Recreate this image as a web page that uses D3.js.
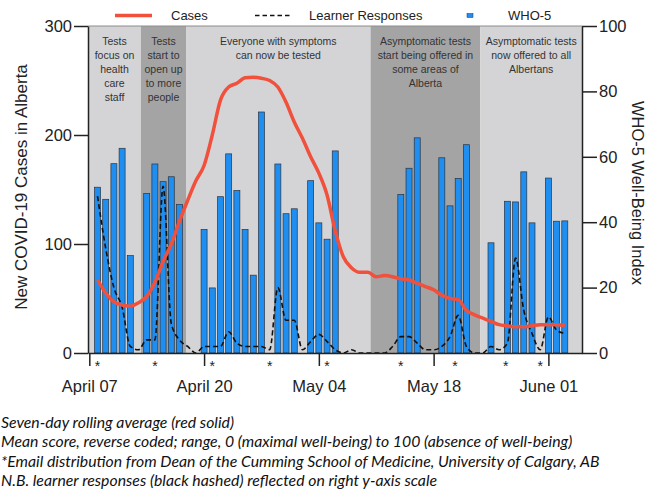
<!DOCTYPE html>
<html>
<head>
<meta charset="utf-8">
<script src="https://cdn.jsdelivr.net/npm/d3@7"></script>
<style>
body { margin: 0; background: #fff; }
svg { display: block; }
text { font-family: "Liberation Sans", Arial, sans-serif; fill: #222; }
.note { font-family: Lato, sans-serif; font-style: italic; fill: #111; }
</style>
</head>
<body>
<svg id="chart" width="654" height="497"></svg>
<script>
const svg = d3.select('#chart')
const plotLeft = 88, plotRight = 582, plotTop = 26, plotBottom = 353
const red = '#f0503c'
const blue = '#1f8ef1'

// x is the day number, day 0 = April 07
const tickDays = [0, 14, 28, 42, 56]
const tickLabels = ['April 07', 'April 20', 'May 04', 'May 18', 'June 01']
const casesTicks = [0, 100, 200, 300]
const whoTicks = [0, 20, 40, 60, 80, 100]

// seven-day rolling average of new cases, days 1..58
const cases = [67, 55, 47, 44, 43, 46, 52, 65, 84, 100, 121, 140, 158, 172, 200, 232, 244, 247.5, 252.5, 253,
	252, 250, 244, 230, 212, 197, 180, 165, 145, 112, 88, 78, 74, 74, 70, 71, 70, 68, 67, 64,
	61, 58, 53, 50, 49, 39, 35, 32, 29, 26, 25, 24, 24, 25, 26, 26, 26, 25]

// learner responses (right axis), days 1..58
const learners = [48, 32, 20, 14, 2, 1, 4, 4, 51, 9, 4, 2, 0, 2, 2, 2, 6.5, 3, 2, 2,
	2, 1, 20, 10, 10, 1, 3.5, 5.7, 3.5, 1, 0, 1, 0, 0, 0, 0, 2, 5, 5, 3,
	1, 1, 2, 5, 11.5, 2, 0, 0, 2, 1, 3, 29, 13, 6, 1, 11, 7, 6]

// WHO-5 mean score bars
const whoDays = [1, 2, 3, 4, 5, 7, 8, 9, 10, 11, 14, 15, 16, 17, 18, 19, 20, 21, 23, 24,
	25, 27, 28, 29, 30, 38, 39, 40, 43, 44, 45, 46, 49, 51, 52, 53, 54, 56, 57, 58]
const who = [50.7, 47.0, 57.9, 62.6, 29.8, 48.8, 57.8, 52.4, 53.9, 45.4, 37.8, 19.9, 47.8, 60.9, 49.7, 37.8, 23.8, 73.7, 57.8, 42.6,
	44.1, 52.7, 39.8, 34.8, 61.8, 48.5, 56.5, 65.8, 59.7, 45.0, 53.4, 63.7, 33.7, 46.4, 46.2, 55.4, 39.8, 53.5, 40.3, 40.4]

// email distribution days (stars)
const emailDays = [1, 8, 15, 22, 29, 38, 44.6, 50.8, 55]

// testing phases
const bandStart = [-0.16, 6.3, 11.8, 34.3, 47.7]
const bandEnd = [6.3, 11.8, 34.3, 47.7, 60.1]
const bandDark = [false, true, false, true, false]
const bandText = [
	['Tests', 'focus on', 'health', 'care', 'staff'],
	['Tests', 'start to', 'open up', 'to more', 'people'],
	['Everyone with symptoms', 'can now be tested'],
	['Asymptomatic tests', 'start being offered in', 'some areas of', 'Alberta'],
	['Asymptomatic tests', 'now offered to all', 'Albertans']
]

const notes = [
	'Seven-day rolling average (red solid)',
	'Mean score, reverse coded; range, 0 (maximal well-being) to 100 (absence of well-being)',
	'*Email distribution from Dean of the Cumming School of Medicine, University of Calgary, AB',
	'N.B. learner responses (black hashed) reflected on right y-axis scale'
]

const x = d3.scaleLinear().domain([-0.16, 60.1]).range([plotLeft, plotRight])
const yL = d3.scaleLinear().domain([0, 300]).range([plotBottom, plotTop])
const yR = d3.scaleLinear().domain([0, 100]).range([plotBottom, plotTop])

// background bands
svg.selectAll('rect.band')
	.data(bandStart)
	.enter()
	.append('rect')
	.attr('class', 'band')
	.attr('x', d => x(d))
	.attr('y', plotTop)
	.attr('width', (d, i) => x(bandEnd[i]) - x(d))
	.attr('height', plotBottom - plotTop)
	.attr('fill', (d, i) => bandDark[i] ? '#a4a4a4' : '#d4d4d6')

svg.append('line')
	.attr('x1', plotLeft).attr('x2', plotRight)
	.attr('y1', plotTop).attr('y2', plotTop)
	.attr('stroke', '#8c8c8c')

bandText.forEach((lines, i) => {
	const t = svg.append('text')
		.attr('text-anchor', 'middle')
		.style('font-size', '10.5px')
		.style('fill', '#333')
	lines.forEach((s, j) => {
		t.append('tspan')
			.attr('x', x((bandStart[i] + bandEnd[i]) / 2))
			.attr('y', 44.5 + j * 14)
			.text(s)
	})
})

// bars
svg.selectAll('rect.bar')
	.data(who)
	.enter()
	.append('rect')
	.attr('class', 'bar')
	.attr('x', (d, i) => x(whoDays[i]) - 3)
	.attr('y', d => yR(d))
	.attr('width', 6)
	.attr('height', d => plotBottom - yR(d))
	.attr('fill', blue)
	.attr('stroke', '#2a3440')
	.attr('stroke-width', 0.7)

// learner responses
const learnerLine = d3.line()
	.x((d, i) => x(i + 1))
	.y(d => yR(d))
	.curve(d3.curveMonotoneX)
svg.append('path')
	.attr('d', learnerLine(learners))
	.attr('fill', 'none')
	.attr('stroke', '#111')
	.attr('stroke-width', 1.6)
	.attr('stroke-dasharray', '5,3')

// cases
const casesLine = d3.line()
	.x((d, i) => x(i + 1))
	.y(d => yL(d))
	.curve(d3.curveMonotoneX)
svg.append('path')
	.attr('d', casesLine(cases))
	.attr('fill', 'none')
	.attr('stroke', red)
	.attr('stroke-width', 3.5)
	.attr('stroke-linejoin', 'round')

// axes
const styleAxis = g => {
	g.selectAll('path.domain').attr('stroke', '#222').attr('stroke-width', 1.5)
	g.selectAll('.tick line').attr('stroke', '#222').attr('stroke-width', 1.5)
	g.selectAll('.tick text').style('font-size', '16.5px').attr('fill', '#222')
}

svg.append('g')
	.attr('transform', `translate(${plotLeft},0)`)
	.call(d3.axisLeft(yL).tickValues(casesTicks).tickSize(14).tickSizeOuter(0).tickPadding(2))
	.call(styleAxis)

svg.append('g')
	.attr('transform', `translate(${plotRight},0)`)
	.call(d3.axisRight(yR).tickValues(whoTicks).tickSize(15).tickSizeOuter(0).tickPadding(2))
	.call(styleAxis)

const xAxis = svg.append('g')
	.attr('transform', `translate(0,${plotBottom})`)
	.call(d3.axisBottom(x).tickValues(tickDays).tickFormat((d, i) => tickLabels[i]).tickSize(13).tickSizeOuter(0))
	.call(styleAxis)
xAxis.selectAll('.tick text').attr('y', 39).attr('dy', 0)

// stars
svg.selectAll('text.star')
	.data(emailDays)
	.enter()
	.append('text')
	.attr('class', 'star')
	.attr('x', d => x(d))
	.attr('y', 371)
	.attr('text-anchor', 'middle')
	.style('font-size', '14px')
	.text('*')

// axis titles
svg.append('text')
	.attr('transform', 'translate(21.5,187) rotate(-90)')
	.attr('text-anchor', 'middle')
	.attr('dy', '0.35em')
	.style('font-size', '17px')
	.text('New COVID-19 Cases in Alberta')

svg.append('text')
	.attr('transform', 'translate(637.5,193) rotate(90)')
	.attr('text-anchor', 'middle')
	.attr('dy', '0.35em')
	.style('font-size', '16.5px')
	.text('WHO-5 Well-Being Index')

// legend
const legend = svg.append('g').style('font-size', '13px')
legend.append('line').attr('x1', 115).attr('x2', 152).attr('y1', 15.5).attr('y2', 15.5)
	.attr('stroke', red).attr('stroke-width', 3.5)
legend.append('text').attr('x', 171).attr('y', 20).text('Cases')
legend.append('line').attr('x1', 255).attr('x2', 291).attr('y1', 15.5).attr('y2', 15.5)
	.attr('stroke', '#111').attr('stroke-width', 1.6).attr('stroke-dasharray', '4.5,3')
legend.append('text').attr('x', 309).attr('y', 20).text('Learner Responses')
legend.append('rect').attr('x', 467).attr('y', 13.5).attr('width', 6).attr('height', 4)
	.attr('fill', blue).attr('stroke', '#2a3440').attr('stroke-width', 0.5)
legend.append('text').attr('x', 508).attr('y', 20).text('WHO-5')

// footnotes
svg.selectAll('text.note')
	.data(notes)
	.enter()
	.append('text')
	.attr('class', 'note')
	.attr('x', 1)
	.attr('y', (d, i) => 428 + i * 19.3)
	.style('font-size', '15.8px')
	.text(d => d)
</script>
</body>
</html>
